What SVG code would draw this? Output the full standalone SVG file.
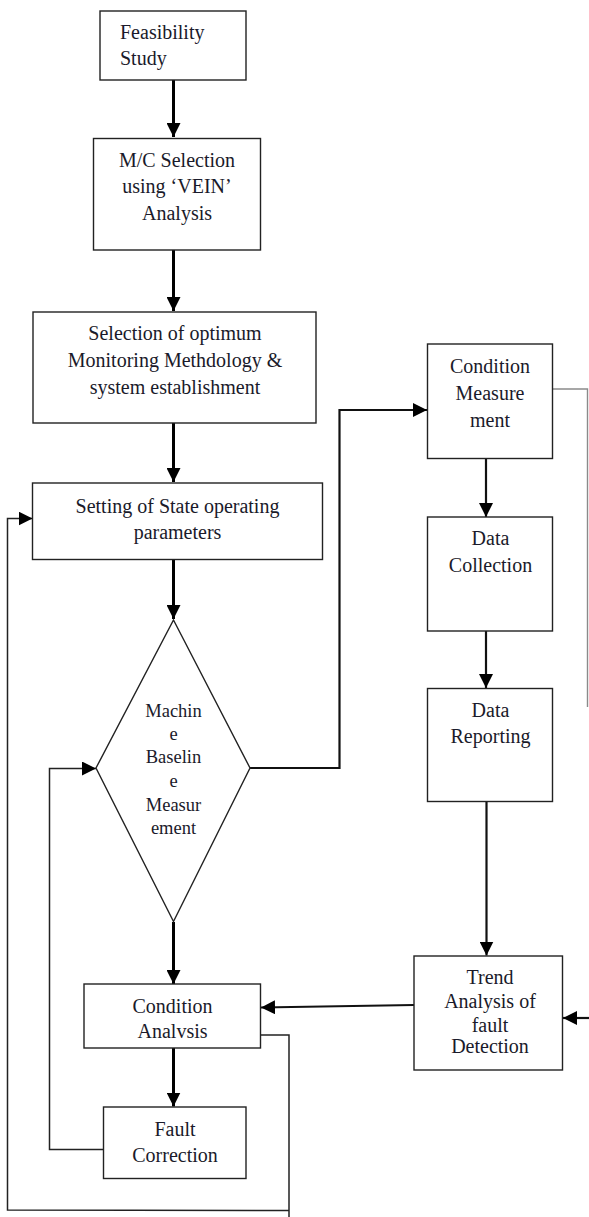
<svg xmlns="http://www.w3.org/2000/svg" width="589" height="1217" viewBox="0 0 589 1217">
<style>
.box{fill:#fff;stroke:#222;stroke-width:1.4}
.t{font-family:'Liberation Serif','DejaVu Serif','Times New Roman',Times,serif;font-size:20px;fill:#1a1a2a;text-anchor:middle}
.tl{text-anchor:start}
.ts{font-size:18.5px}
.thick{fill:none;stroke:#000;stroke-width:3}
.mid{fill:none;stroke:#111;stroke-width:2.2}
.thin{fill:none;stroke:#222;stroke-width:1.5}
.grey{fill:none;stroke:#8a8a8a;stroke-width:1.4}
</style>
<defs>
<marker id="ah" viewBox="0 0 14 14" refX="14" refY="7" markerWidth="14" markerHeight="14" markerUnits="userSpaceOnUse" orient="auto">
<path d="M0,0 L14,7 L0,14 z" fill="#000"/>
</marker>
</defs>
<g id="connectors">
<line class="thick" x1="173.5" y1="80" x2="173.5" y2="137" marker-end="url(#ah)"/>
<line class="thick" x1="173.5" y1="250" x2="173.5" y2="311" marker-end="url(#ah)"/>
<line class="thick" x1="173.5" y1="423" x2="173.5" y2="482" marker-end="url(#ah)"/>
<line class="thick" x1="173.5" y1="559" x2="173.5" y2="619" marker-end="url(#ah)"/>
<polyline class="mid" points="250,768 339.5,768 339.5,410 427,410" marker-end="url(#ah)"/>
<line class="mid" x1="486" y1="458" x2="486" y2="517" marker-end="url(#ah)"/>
<line class="mid" x1="486" y1="628" x2="486" y2="688" marker-end="url(#ah)"/>
<line class="mid" x1="486.5" y1="802" x2="486.5" y2="955.5" marker-end="url(#ah)"/>
<polyline class="grey" points="552.5,389 587.5,389 587.5,707"/>
<line class="mid" x1="589" y1="1018" x2="563" y2="1018" marker-end="url(#ah)"/>
<line class="mid" x1="414" y1="1005" x2="261" y2="1007.5" marker-end="url(#ah)"/>
<line class="thick" x1="173.5" y1="922" x2="173.5" y2="984" marker-end="url(#ah)"/>
<line class="thick" x1="173.5" y1="1048" x2="173.5" y2="1106.5" marker-end="url(#ah)"/>
<polyline class="thin" points="103.5,1149.5 49.5,1149.5 49.5,768.5 96,768.5" marker-end="url(#ah)"/>
<polyline class="thin" points="261,1035 289,1035 289,1217"/>
<polyline class="thin" points="289,1210.5 7.5,1210 7.5,518.5 32.5,518.5" marker-end="url(#ah)"/>
</g>
<g id="feasibility">
<rect class="box" x="100" y="11" width="146" height="69"/>
<text class="t tl" x="120" y="39">Feasibility</text>
<text class="t tl" x="120" y="65">Study</text>
</g>
<g id="mc-selection">
<rect class="box" x="93.5" y="138.5" width="167" height="111.5"/>
<text class="t" x="177" y="166.5">M/C Selection</text>
<text class="t" x="177" y="193">using ‘VEIN’</text>
<text class="t" x="177" y="220">Analysis</text>
</g>
<g id="selection-optimum">
<rect class="box" x="33" y="312" width="283" height="111"/>
<text class="t" x="175" y="340">Selection of optimum</text>
<text class="t" x="175" y="367">Monitoring Methdology &amp;</text>
<text class="t" x="175" y="393.5">system establishment</text>
</g>
<g id="setting">
<rect class="box" x="32.5" y="483" width="290" height="76.5"/>
<text class="t" x="177.5" y="513">Setting of State operating</text>
<text class="t" x="177.5" y="538.5">parameters</text>
</g>
<g id="baseline">
<polygon class="box" points="173.5,620 250,768 173.5,921.5 96,768"/>
<text class="t ts" x="173.5" y="716.5">Machin</text>
<text class="t ts" x="173.5" y="739.5">e</text>
<text class="t ts" x="173.5" y="763">Baselin</text>
<text class="t ts" x="173.5" y="786.5">e</text>
<text class="t ts" x="173.5" y="810.5">Measur</text>
<text class="t ts" x="173.5" y="833.5">ement</text>
</g>
<g id="condition-measurement">
<rect class="box" x="427.5" y="344" width="125" height="114.5"/>
<text class="t" x="490" y="373">Condition</text>
<text class="t" x="490" y="400">Measure</text>
<text class="t" x="490" y="426.5">ment</text>
</g>
<g id="data-collection">
<rect class="box" x="427.5" y="517" width="125" height="114"/>
<text class="t" x="490.5" y="545">Data</text>
<text class="t" x="490.5" y="571.5">Collection</text>
</g>
<g id="data-reporting">
<rect class="box" x="427.5" y="688.5" width="125" height="113"/>
<text class="t" x="490.5" y="716.5">Data</text>
<text class="t" x="490.5" y="743">Reporting</text>
</g>
<g id="trend-analysis">
<rect class="box" x="414" y="956" width="148.5" height="114"/>
<text class="t" x="490" y="984">Trend</text>
<text class="t" x="490" y="1008">Analysis of</text>
<text class="t" x="490" y="1031.5">fault</text>
<text class="t" x="490" y="1053">Detection</text>
</g>
<g id="condition-analysis">
<rect class="box" x="84" y="984" width="176.5" height="64"/>
<text class="t" x="172.5" y="1012.5">Condition</text>
<text class="t" x="172.5" y="1038">Analvsis</text>
</g>
<g id="fault-correction">
<rect class="box" x="103.5" y="1107" width="142.5" height="71.5"/>
<text class="t" x="175" y="1136">Fault</text>
<text class="t" x="175" y="1161.5">Correction</text>
</g>
</svg>
